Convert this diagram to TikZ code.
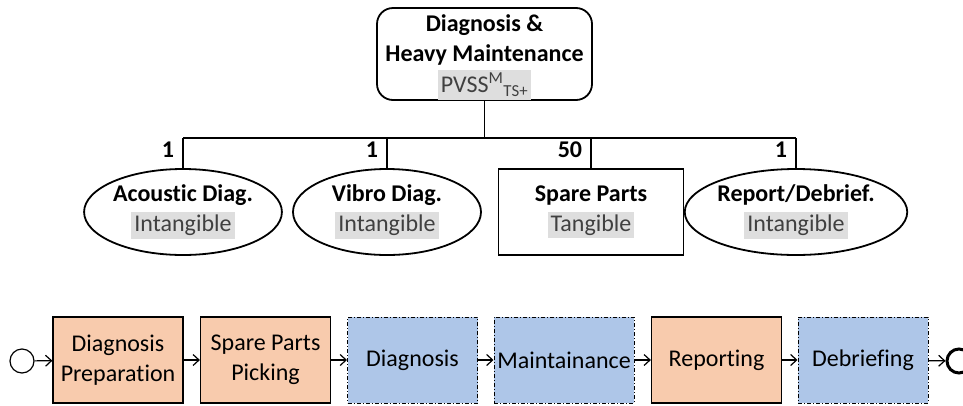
\documentclass[tikz,border=0pt]{standalone}
\usepackage{fontspec}
\setmainfont{Carlito}[Ligatures=NoCommon]
\usetikzlibrary{shapes.geometric,arrows.meta}

\definecolor{taskorange}{HTML}{F8CBAD}
\definecolor{taskblue}{HTML}{AEC6E8}
\definecolor{hlgrey}{HTML}{DEDEDE}
\definecolor{subgrey}{HTML}{404040}
\newcommand{\hlbox}[1]{{\fboxsep=3pt\colorbox{hlgrey}{\color{subgrey}#1}}}

\begin{document}
\begin{tikzpicture}[x=1pt,y=-1pt,
  every node/.style={font=\fontsize{24}{30}\selectfont, inner sep=0pt},
  svc/.style={draw, line width=1.8pt, ellipse, minimum width=188pt, minimum height=86pt, align=center},
  prod/.style={draw, line width=1.2pt, rectangle, minimum width=185pt, minimum height=86pt, align=center},
  task/.style={draw, line width=1.2pt, minimum width=130pt, minimum height=86pt, align=center, fill=taskorange},
  subtask/.style={task, fill=taskblue, line width=1pt, dash pattern=on 4pt off 2pt on 1pt off 2pt},
  flow/.style={-{Straight Barb[length=6pt,width=11pt]}, line width=1.2pt},
  tree/.style={line width=1.8pt}]
\useasboundingbox (0,0) rectangle (963,405);

% service structure
\node[draw, line width=1.8pt, rounded corners=16pt, minimum width=215pt, minimum height=92pt, align=center, text depth=0pt]
  (root) at (484.5,54) {\textbf{Diagnosis \&}\\\textbf{Heavy Maintenance}\\[1pt]\hlbox{PVSS\textsuperscript{M}\textsubscript{TS+}}};
\node[svc] (acou) at (183,212) {\textbf{Acoustic Diag.}\\\hlbox{Intangible}};
\node[svc] (vib) at (387,212) {\textbf{Vibro Diag.}\\\hlbox{Intangible}};
\node[prod] (spare) at (591,212) {\textbf{Spare Parts}\\\hlbox{Tangible}};
\node[svc] (rep) at (796,212) {\textbf{Report/Debrief.}\\\hlbox{Intangible}};

\coordinate (bar) at (484.5,138);
\draw[tree] (root.south) -- (bar);
\draw[tree] (acou.north |- bar) -- (rep.north |- bar);
\foreach \child/\qty in {acou/1, vib/1, spare/50, rep/1}
  \draw[tree] (\child.north |- bar) -- node[pos=0.4, left=8pt, font=\fontsize{24}{30}\selectfont\bfseries] {\qty} (\child.north);

% process
\node[draw, circle, line width=1.2pt, minimum size=24pt] (start) at (22,361) {};
\node[task] (prep) at (118,360) {Diagnosis\\Preparation};
\node[task] (pick) at (265.5,360) {Spare Parts\\Picking};
\node[subtask] (diag) at (412.5,360) {Diagnosis};
\node[subtask, minimum width=140pt] (maint) at (564,360) {Maintainance};
\node[task] (repo) at (716.5,360) {Reporting};
\node[subtask] (debr) at (863,360) {Debriefing};
\node[draw, circle, line width=3pt, minimum size=24pt] (end) at (959,361) {};

\foreach \a/\b in {start/prep, prep/pick, pick/diag, diag/maint, maint/repo, repo/debr, debr/end}
  \draw[flow] (\a) -- (\b);
\end{tikzpicture}
\end{document}
